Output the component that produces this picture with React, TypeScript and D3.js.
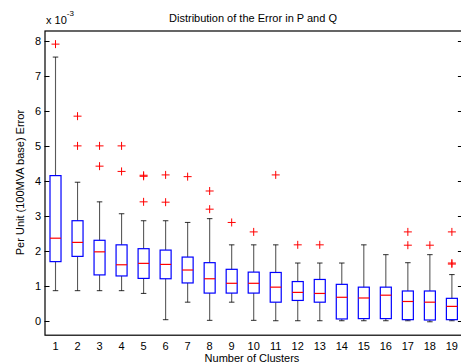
import React from "react";
import * as d3 from "d3";

const clusters = [1, 2, 3, 4, 5, 6, 7, 8, 9, 10, 11, 12, 13, 14, 15, 16, 17, 18, 19];
// values in units of 1e-3
const whiskerLow = [0.86, 0.86, 0.86, 0.86, 0.78, 0.03, 0.53, 0.01, 0.53, 0.01, 0, 0, 0, 0, 0, 0, 0, -0.03, 0];
const q1 = [1.69, 1.84, 1.31, 1.28, 1.21, 1.2, 1.08, 0.79, 0.79, 0.79, 0.53, 0.58, 0.53, 0.05, 0.06, 0.06, 0.03, 0.02, 0.03];
const medians = [2.36, 2.24, 1.97, 1.6, 1.64, 1.61, 1.45, 1.2, 1.07, 1.07, 0.96, 0.81, 0.78, 0.67, 0.65, 0.73, 0.55, 0.53, 0.41];
const q3 = [4.15, 2.86, 2.3, 2.17, 2.06, 2.02, 1.82, 1.66, 1.47, 1.39, 1.38, 1.12, 1.18, 1.04, 0.96, 0.96, 0.85, 0.85, 0.64];
const whiskerHigh = [7.54, 3.96, 3.4, 3.06, 2.86, 2.86, 2.81, 2.92, 2.17, 2.17, 2.17, 1.65, 1.65, 1.65, 2.17, 1.89, 1.66, 1.89, 1.32];
const outliers: number[][] = [
  [7.91],
  [5.85, 5.0],
  [5.0, 4.42],
  [5.0, 4.27],
  [4.16, 4.13, 3.4],
  [4.17, 3.39],
  [4.12],
  [3.71, 3.19],
  [2.81],
  [2.54],
  [4.17],
  [2.17],
  [2.17],
  [],
  [],
  [],
  [2.54, 2.16],
  [2.16],
  [2.54, 1.65, 1.62],
];
const yTicks = [0, 1, 2, 3, 4, 5, 6, 7, 8];

const FONT = "'Liberation Sans', Arial, Helvetica, sans-serif";

export default function App() {
  const W = 461;
  const H = 363;
  const x = d3.scaleLinear().domain([0.5, 19.5]).range([44.5, 462.9]);
  const y = d3.scaleLinear().domain([-0.4, 8.3]).range([334.7, 30.5]);
  const left = x(0.5);
  const right = x(19.5);
  const top = y(8.3);
  const bottom = y(-0.4);
  const halfBox = (x(1.25) - x(1)) ;
  const halfCap = halfBox / 2;
  const arm = 4;

  return (
    <svg
      width={W}
      height={H}
      style={{ position: "fixed", left: 0, top: 0, background: "#fff" }}
      fontFamily={FONT}
    >
      <rect x={0} y={0} width={W} height={H} fill="#fff" />
      {/* title */}
      <text x={253} y={22} fontSize={11} textAnchor="middle" fill="#000">
        Distribution of the Error in P and Q
      </text>
      {/* exponent */}
      <text x={46} y={24} fontSize={11} fill="#000">
        x 10
        <tspan dy={-8} fontSize={8}>-3</tspan>
      </text>
      {/* y label */}
      <text
        transform={`translate(24,${(top + bottom) / 2}) rotate(-90)`}
        fontSize={11}
        textAnchor="middle"
        fill="#000"
      >
        Per Unit (100MVA base) Error
      </text>
      {/* x label */}
      <text x={252} y={362} fontSize={11} textAnchor="middle" fill="#000">
        Number of Clusters
      </text>

      {/* y ticks */}
      {yTicks.map((t) => (
        <g key={t}>
          <line x1={left} x2={left + 5} y1={Math.round(y(t)) + 0.5} y2={Math.round(y(t)) + 0.5} stroke="#000" />
          <line x1={right - 5} x2={right} y1={Math.round(y(t)) + 0.5} y2={Math.round(y(t)) + 0.5} stroke="#000" />
          <text x={41} y={y(t) + 4} fontSize={11} textAnchor="end" fill="#000">
            {t}
          </text>
        </g>
      ))}
      {/* x tick labels */}
      {clusters.map((c) => (
        <text key={c} x={x(c)} y={349.5} fontSize={11} textAnchor="middle" fill="#000">
          {c}
        </text>
      ))}

      {/* boxes */}
      {clusters.map((c, i) => {
        const cx = x(c);
        return (
          <g key={c}>
            <line x1={cx} x2={cx} y1={y(q3[i])} y2={y(whiskerHigh[i])} stroke="#000" strokeOpacity={0.65} strokeWidth={1.1} />
            <line x1={cx} x2={cx} y1={y(q1[i])} y2={y(whiskerLow[i])} stroke="#000" strokeOpacity={0.65} strokeWidth={1.1} />
            <line x1={cx - halfCap} x2={cx + halfCap} y1={y(whiskerHigh[i])} y2={y(whiskerHigh[i])} stroke="#000" strokeOpacity={0.75} strokeWidth={1.1} />
            <line x1={cx - halfCap} x2={cx + halfCap} y1={y(whiskerLow[i])} y2={y(whiskerLow[i])} stroke="#000" strokeOpacity={0.75} strokeWidth={1.1} />
            <rect
              x={cx - halfBox}
              y={y(q3[i])}
              width={2 * halfBox}
              height={y(q1[i]) - y(q3[i])}
              fill="none"
              stroke="#0000ff"
              strokeWidth={1.2}
            />
            <line x1={cx - halfBox} x2={cx + halfBox} y1={y(medians[i])} y2={y(medians[i])} stroke="#ff0000" strokeWidth={1.2} />
            {outliers[i].map((o, j) => (
              <g key={j} stroke="#ff0000" strokeWidth={1}>
                <line x1={cx - arm} x2={cx + arm} y1={y(o)} y2={y(o)} />
                <line x1={cx} x2={cx} y1={y(o) - arm} y2={y(o) + arm} />
              </g>
            ))}
          </g>
        );
      })}

      {/* axes box */}
      <rect x={left + 0.5} y={top + 0.5} width={right - left} height={bottom - top} fill="none" stroke="#000" strokeWidth={1.2} />
    </svg>
  );
}
